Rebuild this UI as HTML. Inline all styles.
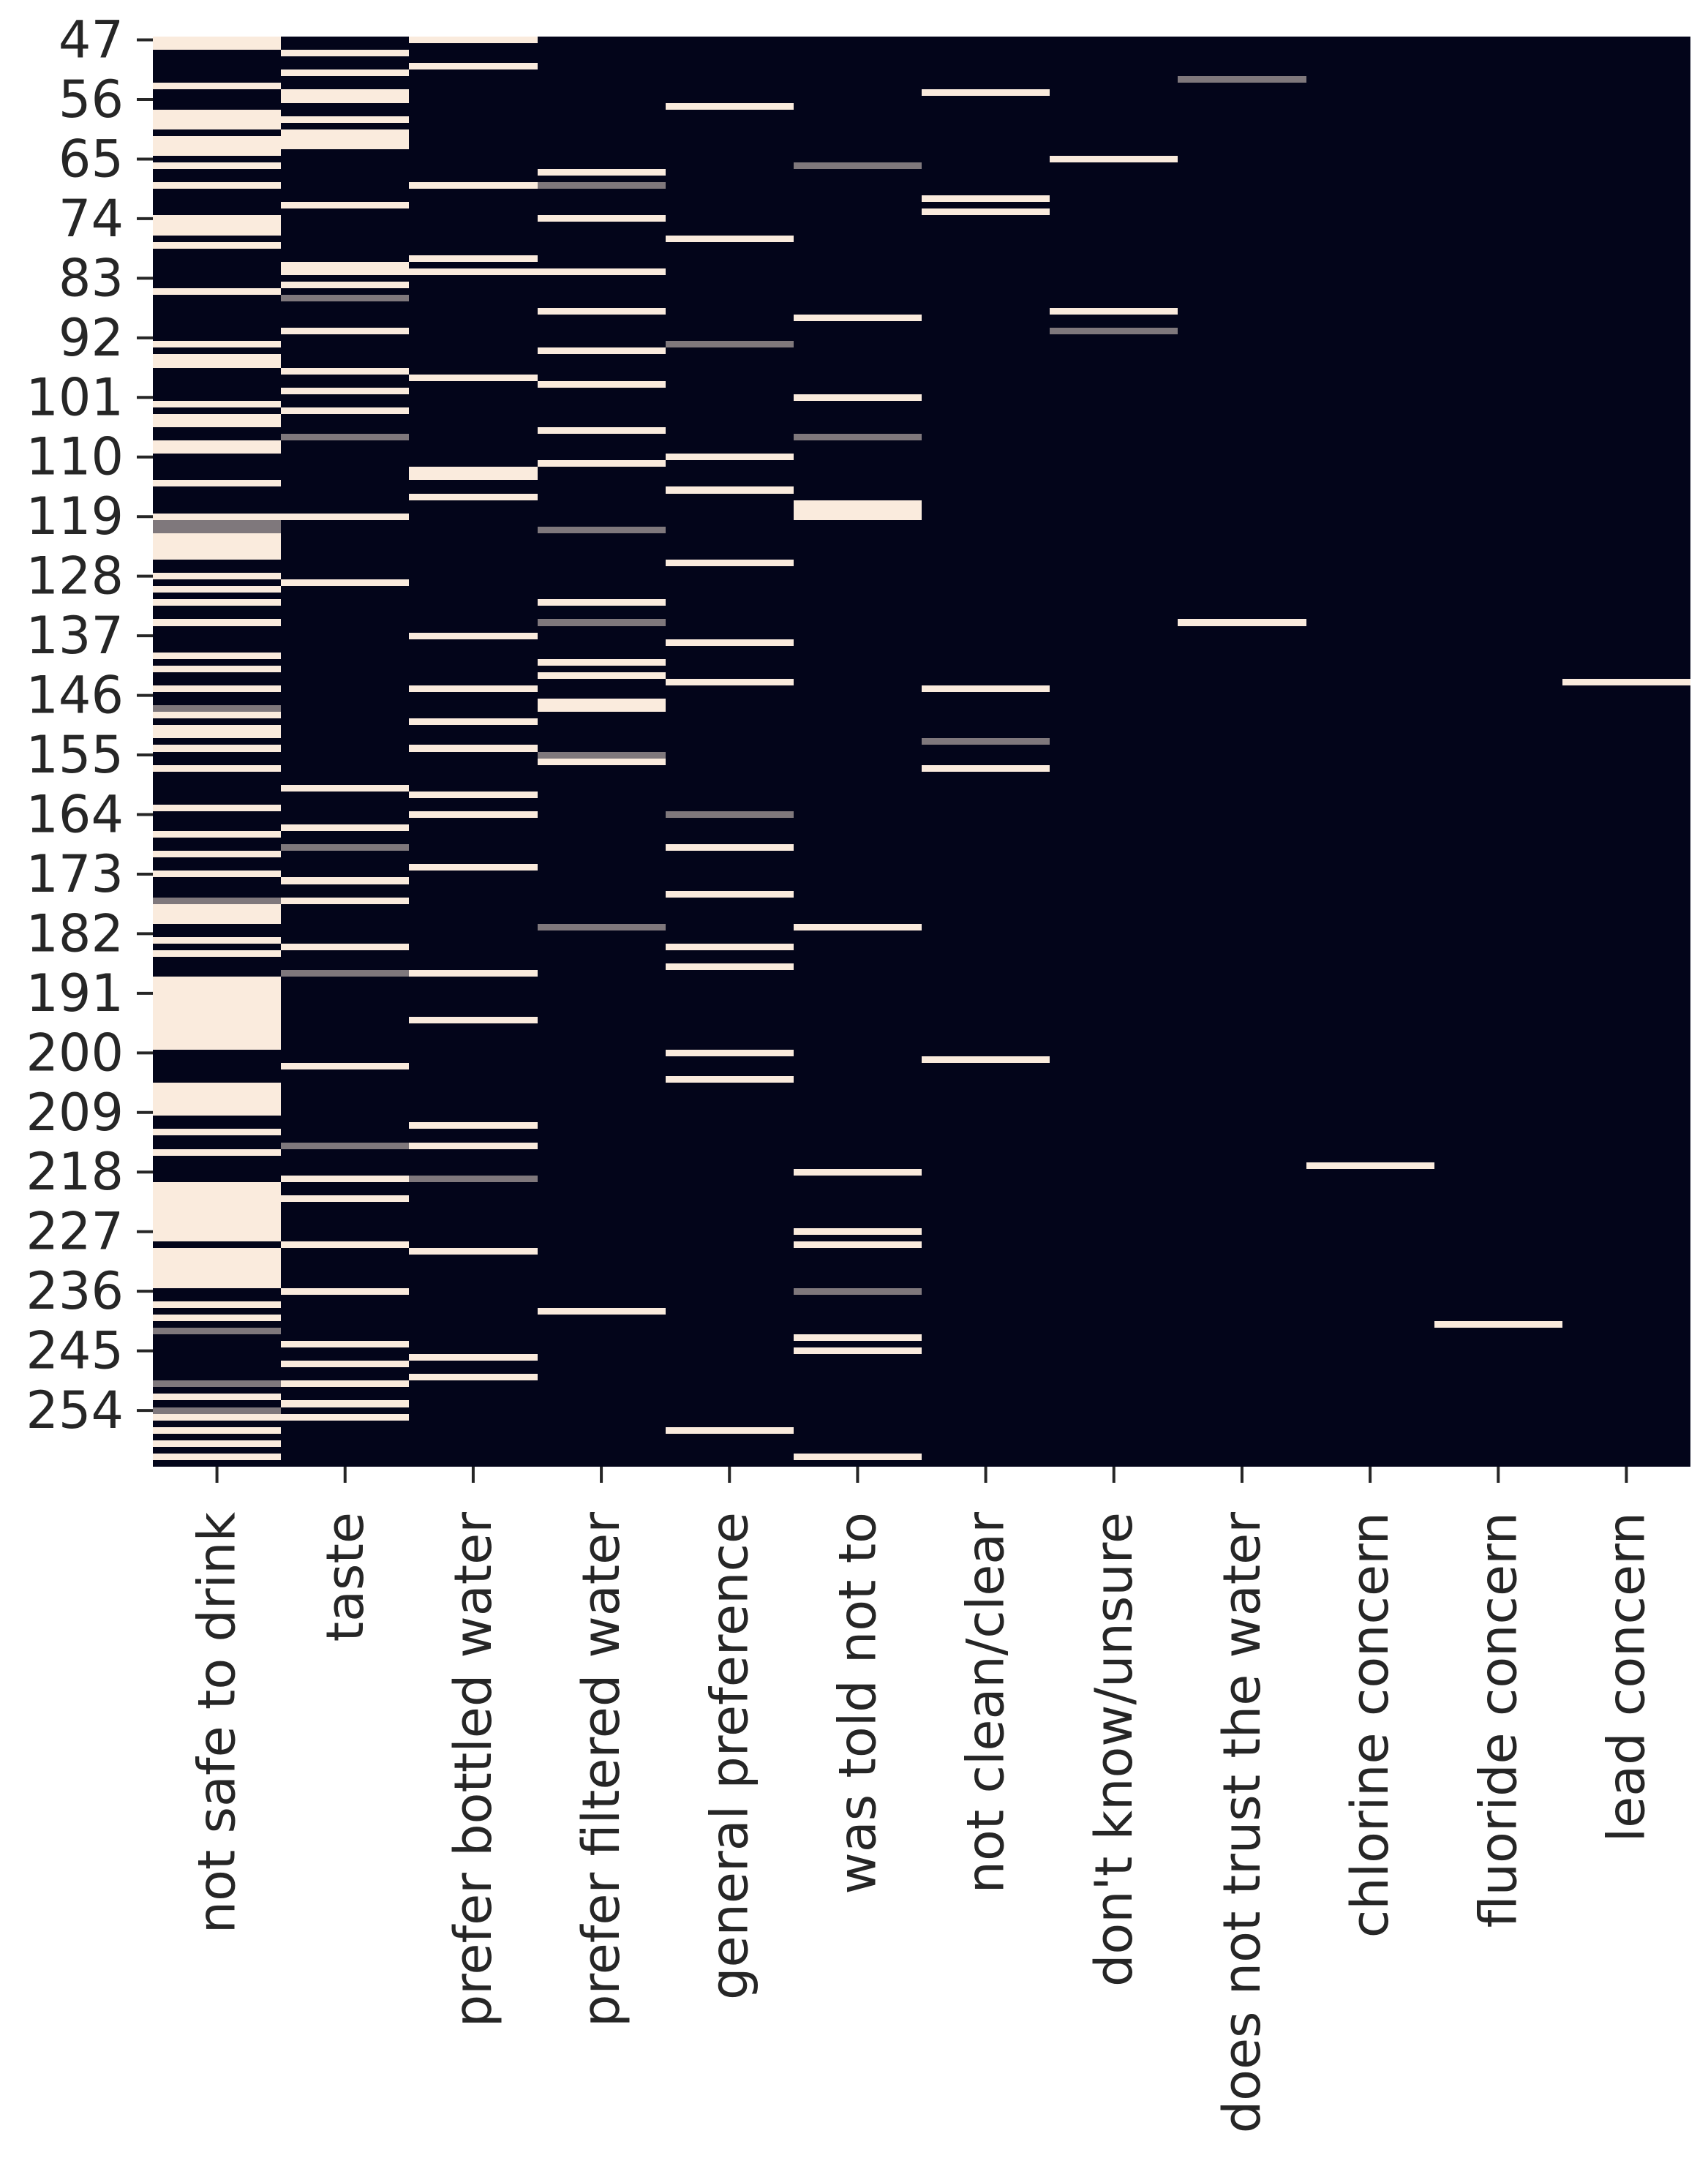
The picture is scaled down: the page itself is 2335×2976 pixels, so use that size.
<!DOCTYPE html>
<html><head><meta charset="utf-8"><style>
html,body{margin:0;padding:0;background:#fff;}
svg{display:block;}
</style></head><body>
<svg id="chart" width="2335" height="2976" viewBox="0 0 2335 2976" xmlns="http://www.w3.org/2000/svg">
<rect width="2335" height="2976" fill="#fff"/>
<g id="cells" shape-rendering="crispEdges"></g>
<g id="yaxis"></g>
<g id="xaxis"></g>
</svg>
<script>
const categories = ["not safe to drink","taste","prefer bottled water","prefer filtered water","general preference","was told not to","not clean/clear","don't know/unsure","does not trust the water","chlorine concern","fluoride concern","lead concern"];
const rowStart = 47;
const rowEnd = 262;
const yTicks = [47,56,65,74,83,92,101,110,119,128,137,146,155,164,173,182,191,200,209,218,227,236,245,254];
// rows with value 1 per column
const onNotSafe = [47,48,54,58,59,60,62,63,64,66,69,74,75,76,78,85,93,95,96,102,104,105,108,109,114,119,122,123,124,125,128,130,132,135,140,142,145,149,151,152,154,157,163,167,170,173,178,179,180,183,185,189,190,191,192,193,194,195,196,197,198,199,205,206,207,208,209,212,215,220,221,222,223,224,225,226,227,228,230,231,232,233,234,235,238,240,252,255,257,259,261];
const onTaste = [49,52,55,56,59,61,62,63,72,81,82,84,91,97,100,103,119,129,160,166,174,177,184,202,219,222,229,236,244,247,250,253,255];
const onBottled = [47,51,69,80,82,98,112,113,116,137,145,150,154,161,164,172,188,195,211,214,230,246,249];
const onFiltered = [67,74,82,88,94,99,106,111,132,141,143,147,148,156,239];
const onGeneral = [57,77,110,115,126,138,144,169,176,184,187,200,204,257];
const onTold = [89,101,117,118,119,181,218,227,229,243,245,261];
const onNotClean = [55,71,73,145,157,201];
const onUnsure = [65,88];
const onTrust = [135];
const onChlorine = [217];
const onFluoride = [241];
const onLead = [144];
// rows with intermediate (0.5) value per column
const halfNotSafe = [120,121,148,177,242,250,254];
const halfTaste = [86,107,169,188,214];
const halfBottled = [219];
const halfFiltered = [69,121,135,155,181];
const halfGeneral = [93,164];
const halfTold = [66,107,236];
const halfNotClean = [153];
const halfUnsure = [91];
const halfTrust = [53];
const halfChlorine = [];
const halfFluoride = [];
const halfLead = [];

const onCols = [onNotSafe,onTaste,onBottled,onFiltered,onGeneral,onTold,onNotClean,onUnsure,onTrust,onChlorine,onFluoride,onLead];
const halfCols = [halfNotSafe,halfTaste,halfBottled,halfFiltered,halfGeneral,halfTold,halfNotClean,halfUnsure,halfTrust,halfChlorine,halfFluoride,halfLead];

const L = 209, R = 2311, T = 50, B = 2005;
const nRows = rowEnd - rowStart + 1;
const colW = (R - L) / categories.length;
const rowH = (B - T) / nRows;
function xPos(i){ return L + i * colW; }
function yPos(r){ return T + (r - rowStart) * rowH; }
function color(v){
  const a=[3,5,26], b=[250,235,221];
  const c=a.map((x,k)=>Math.round(x+(b[k]-x)*v));
  return 'rgb('+c.join(',')+')';
}
const NS='http://www.w3.org/2000/svg';
const cells=document.getElementById('cells');
const bg=document.createElementNS(NS,'rect');
bg.setAttribute('x',L);bg.setAttribute('y',T);bg.setAttribute('width',R-L);bg.setAttribute('height',B-T);bg.setAttribute('fill',color(0));


cells.appendChild(bg);
function addCell(ci, r, v){
  const el=document.createElementNS(NS,'rect');
  const y0=Math.round(yPos(r)), y1=Math.round(yPos(r+1));
  const x0=Math.round(xPos(ci)), x1=Math.round(xPos(ci+1));
  el.setAttribute('x',x0);
  el.setAttribute('y',y0);
  el.setAttribute('width',x1-x0);
  el.setAttribute('height',y1-y0);
  el.setAttribute('fill',color(v));
  
  
  cells.appendChild(el);
}
onCols.forEach((rows,ci)=>rows.forEach(r=>addCell(ci,r,1)));
halfCols.forEach((rows,ci)=>rows.forEach(r=>addCell(ci,r,0.5)));

const yaxis=document.getElementById('yaxis');
yTicks.forEach(t=>{
  const cy=yPos(t)+rowH/2;
  const ln=document.createElementNS(NS,'line');
  ln.setAttribute('x1',L-22);ln.setAttribute('x2',L);ln.setAttribute('y1',cy);ln.setAttribute('y2',cy);
  ln.setAttribute('stroke','#262626');ln.setAttribute('stroke-width','4');
  
  
  yaxis.appendChild(ln);
  const tx=document.createElementNS(NS,'text');
  tx.setAttribute('x',L-40);tx.setAttribute('y',cy);
  tx.setAttribute('text-anchor','end');tx.setAttribute('dominant-baseline','central');
  tx.setAttribute('font-family','"DejaVu Sans", "Liberation Sans", sans-serif');
  tx.setAttribute('font-size','70');tx.setAttribute('fill','#262626');
  tx.textContent=t;
  
  
  yaxis.appendChild(tx);
});
const xaxis=document.getElementById('xaxis');
categories.forEach((c,i)=>{
  const cx=xPos(i)+colW/2;
  const ln=document.createElementNS(NS,'line');
  ln.setAttribute('x1',cx);ln.setAttribute('x2',cx);ln.setAttribute('y1',B);ln.setAttribute('y2',B+22);
  ln.setAttribute('stroke','#262626');ln.setAttribute('stroke-width','4');
  
  
  xaxis.appendChild(ln);
  const tx=document.createElementNS(NS,'text');
  const ty=B+62;
  tx.setAttribute('x',cx);tx.setAttribute('y',ty);
  tx.setAttribute('transform','rotate(-90 '+cx+' '+ty+')');
  tx.setAttribute('text-anchor','end');tx.setAttribute('dominant-baseline','central');
  tx.setAttribute('font-family','"DejaVu Sans", "Liberation Sans", sans-serif');
  tx.setAttribute('font-size','70');tx.setAttribute('fill','#262626');
  tx.textContent=c;
  
  
  xaxis.appendChild(tx);
});
</script>
</body></html>
